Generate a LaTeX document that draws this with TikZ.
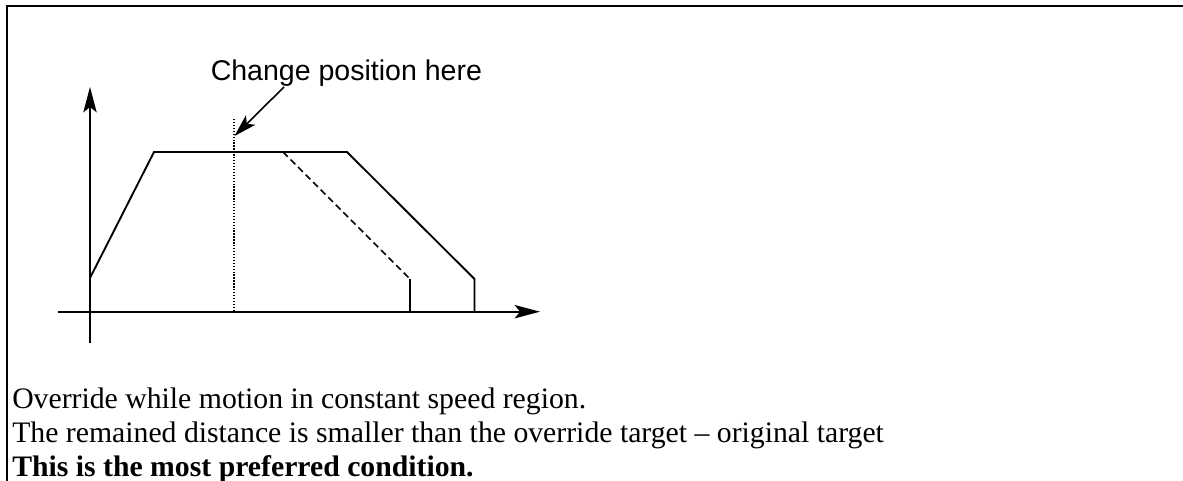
\documentclass[tikz,border=0pt]{standalone}
\usepackage{fontspec}
\setmainfont{Liberation Serif}
\newfontfamily\arialfont{Liberation Sans}
\usetikzlibrary{arrows.meta}
\begin{document}
\begin{tikzpicture}[x=0.75pt,y=-0.75pt,
  frame/.style={line width=1.5pt, line cap=rect},
  axis/.style={line width=1.4pt,-{Stealth[length=19pt,width=10pt,inset=4pt]}},
  prof/.style={line width=1.4pt, line join=miter},
  dashprof/.style={line width=1.3pt, dash pattern=on 5pt off 3pt},
  dotline/.style={line width=1.1pt, dash pattern=on 1pt off 1.2pt},
  pointer/.style={line width=1.2pt,-{Stealth[length=17pt,width=10pt,inset=4pt]}},
  label/.style={inner sep=0pt, anchor=base west, font=\arialfont\fontsize{21.4pt}{25pt}\selectfont},
  body/.style={inner sep=0pt, anchor=base west, font=\fontsize{22.3pt}{26pt}\selectfont}]
\useasboundingbox (0,0) rectangle (1183,481);
% frame (top and left)
\coordinate (fTR) at (1183,6.5);
\coordinate (fTL) at (6.5,6.5);
\coordinate (fBL) at (6.5,481);
\draw[frame] (fTR) -- (fTL) -- (fBL);
% axes
\coordinate (yb) at (90,343);
\coordinate (yt) at (90,87);
\coordinate (xl) at (58,311.7);
\coordinate (xr) at (540,311.7);
\draw[axis] (yb) -- (yt);
\draw[axis] (xl) -- (xr);
% profile
\coordinate (p0) at (90,278);
\coordinate (p1) at (154,152);
\coordinate (p2) at (347,152);
\coordinate (p3) at (474.5,279);
\coordinate (p4) at (474.5,311.7);
\draw[prof] (p0) -- (p1) -- (p2) -- (p3) -- (p4);
% overridden profile
\coordinate (d0) at (283,152);
\coordinate (d1) at (410,279);
\coordinate (d2) at (410,311.7);
\draw[dashprof] (d0) -- (d1);
\draw[prof] (d1) -- (d2);
% change marker
\coordinate (m0) at (234,119);
\coordinate (m1) at (234,311.7);
\draw[dotline] (m0) -- (m1);
% label and pointer
\node[label] (lab) at (210.5,81) {Change position here};
\coordinate (ps) at (284,87);
\coordinate (pt) at (234.5,136);
\draw[pointer] (ps) -- (pt);
% text
\node[body] (t1) at (12,408) {Override while motion in constant speed region.};
\node[body] (t2) at (12,442) {The remained distance is smaller than the override target -- original target};
\node[body,font=\bfseries\fontsize{22.3pt}{26pt}\selectfont] (t3) at (12,476) {This is the most preferred condition.};
\end{tikzpicture}
\end{document}
